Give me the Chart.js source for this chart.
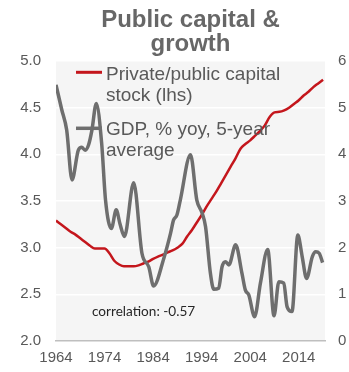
<!DOCTYPE html>
<html>
<head>
<meta charset="utf-8">
<script src="https://cdn.jsdelivr.net/npm/chart.js@4.4.1/dist/chart.umd.min.js"></script>
<style>
  html, body { margin: 0; padding: 0; background: #ffffff; }
  #wrap { width: 349px; height: 372px; }
</style>
</head>
<body>
<div id="wrap"><canvas id="c" width="349" height="372"></canvas></div>
<script>
// Private/public capital stock ratio (left axis), annual
const capitalYears = [
  1964, 1965, 1966, 1967, 1968, 1969, 1970, 1971, 1972, 1973,
  1974, 1975, 1976, 1977, 1978, 1979, 1980, 1981, 1982, 1983,
  1984, 1985, 1986, 1987, 1988, 1989, 1990, 1991, 1992, 1993,
  1994, 1995, 1996, 1997, 1998, 1999, 2000, 2001, 2002, 2003,
  2004, 2005, 2006, 2007, 2008, 2009, 2010, 2011, 2012, 2013,
  2014, 2015, 2016, 2017, 2018, 2019
];
const capitalRatio = [
  3.29, 3.25, 3.21, 3.17, 3.14, 3.10, 3.06, 3.02, 2.99, 2.99,
  2.99, 2.94, 2.86, 2.82, 2.80, 2.80, 2.80, 2.81, 2.83, 2.85,
  2.88, 2.905, 2.925, 2.95, 2.97, 3.00, 3.04, 3.12, 3.19, 3.27,
  3.35, 3.44, 3.52, 3.60, 3.69, 3.78, 3.87, 3.96, 4.06, 4.11,
  4.15, 4.20, 4.25, 4.31, 4.40, 4.45, 4.455, 4.47, 4.50, 4.54,
  4.58, 4.63, 4.67, 4.72, 4.76, 4.80
];

// GDP growth, % yoy, 5-year average (right axis)
const gdpYears = [
  1964.0, 1965.2, 1966.2, 1967.3, 1968.6, 1969.3, 1970.0, 1970.7, 1971.4, 1972.3,
  1973.4, 1974.2, 1975.4, 1976.4, 1977.2, 1978.1, 1980.0, 1981.7, 1983.1, 1984.1,
  1986.2, 1987.6, 1988.2, 1988.9, 1989.6, 1991.7, 1993.0, 1994.1, 1994.8, 1995.8,
  1996.5, 1997.5, 1998.2, 1998.9, 1999.6, 2001.0, 2002.3, 2003.0, 2003.7, 2004.9,
  2006.1, 2007.6, 2008.9, 2009.9, 2010.9, 2011.6, 2012.6, 2013.8, 2014.7, 2015.6,
  2016.8, 2017.5, 2018.2, 2018.9
];
const gdpGrowth = [
  5.49, 4.95, 4.52, 3.45, 4.09, 4.15, 4.09, 4.20, 4.52, 5.09,
  4.24, 3.02, 2.41, 2.81, 2.50, 2.24, 3.39, 1.88, 1.59, 1.18,
  1.77, 2.31, 2.59, 2.70, 3.02, 3.99, 3.02, 2.74, 2.45, 1.45,
  1.11, 1.13, 1.59, 1.70, 1.63, 2.06, 1.45, 1.09, 0.99, 0.52,
  1.24, 1.96, 0.54, 1.27, 1.24, 0.73, 0.63, 2.27, 1.81, 1.34,
  1.81, 1.91, 1.88, 1.68
];

const xTickYears = [1964, 1974, 1984, 1994, 2004, 2014];
const titleLines = ['Public capital &', 'growth'];
const capitalLabel = ['Private/public capital', 'stock (lhs)'];
const gdpLabel = ['GDP, % yoy, 5-year', 'average'];
const correlationNote = 'correlation: -0.57';

const RED = '#C4161C';
const GREY = '#6E6E6E';
const TEXT = '#595959';
const SANS = '"Liberation Sans", Arial, sans-serif';

// light panel behind the plotting area
const panelPlugin = {
  id: 'panel',
  beforeDraw(chart) {
    const { ctx, chartArea: a } = chart;
    ctx.save();
    ctx.fillStyle = '#F5F5F5';
    ctx.fillRect(a.left, a.top, a.right - a.left, a.bottom - a.top);
    ctx.restore();
  }
};

// two-line legend entries inside the plot, plus the correlation note
const notesPlugin = {
  id: 'notes',
  afterDatasetsDraw(chart) {
    const { ctx } = chart;
    const entries = [
      { color: RED, width: 3, lines: capitalLabel, sampleY: 72.3, baseY: 80 },
      { color: GREY, width: 3.5, lines: gdpLabel, sampleY: 128.3, baseY: 135 }
    ];
    ctx.save();
    entries.forEach(e => {
      ctx.strokeStyle = e.color;
      ctx.lineWidth = e.width;
      ctx.beginPath();
      ctx.moveTo(76, e.sampleY);
      ctx.lineTo(102, e.sampleY);
      ctx.stroke();
      ctx.fillStyle = TEXT;
      ctx.font = '19px ' + SANS;
      ctx.textAlign = 'left';
      ctx.textBaseline = 'alphabetic';
      e.lines.forEach((t, i) => ctx.fillText(t, 106, e.baseY + i * 20.5));
    });
    ctx.fillStyle = '#262626';
    ctx.font = '13.6px Lato, "Open Sans", sans-serif';
    ctx.fillText(correlationNote, 92, 316);
    ctx.restore();
  }
};

new Chart(document.getElementById('c'), {
  type: 'line',
  data: {
    datasets: [
      {
        label: gdpLabel.join(' '),
        data: gdpYears.map((yr, i) => ({ x: yr, y: gdpGrowth[i] })),
        yAxisID: 'yR',
        borderColor: GREY,
        borderWidth: 3.5,
        pointRadius: 0,
        cubicInterpolationMode: 'monotone',
        fill: false
      },
      {
        label: capitalLabel.join(' '),
        data: capitalYears.map((yr, i) => ({ x: yr, y: capitalRatio[i] })),
        yAxisID: 'yL',
        borderColor: RED,
        borderWidth: 2.5,
        pointRadius: 0,
        cubicInterpolationMode: 'monotone',
        fill: false
      }
    ]
  },
  options: {
    responsive: false,
    animation: false,
    devicePixelRatio: 1,
    layout: { padding: 0 },
    plugins: {
      legend: { display: false },
      tooltip: { enabled: false },
      title: {
        display: true,
        text: titleLines,
        color: '#676767',
        fullSize: false,
        font: { family: SANS, size: 24, weight: 'bold', lineHeight: 1.0 },
        padding: { top: 8, bottom: 5 }
      }
    },
    scales: {
      x: {
        type: 'linear',
        min: 1964,
        max: 2019.4,
        afterBuildTicks(scale) {
          scale.ticks = xTickYears.map(v => ({ value: v }));
        },
        afterFit(scale) { scale.height = 31; },
        ticks: {
          callback: v => String(v),
          color: TEXT,
          font: { family: SANS, size: 15 },
          padding: 8,
          maxRotation: 0,
          autoSkip: false
        },
        grid: { display: false, drawTicks: false },
        border: { display: true, color: '#BFBFBF', width: 1.5 }
      },
      yL: {
        position: 'left',
        min: 2,
        max: 5,
        afterFit(scale) { scale.width = 56; },
        ticks: {
          stepSize: 0.5,
          callback: v => Number(v).toFixed(1),
          color: TEXT,
          font: { family: SANS, size: 15 },
          padding: 15
        },
        grid: { color: '#FFFFFF', lineWidth: 1.5, drawTicks: false },
        border: { display: false }
      },
      yR: {
        position: 'right',
        min: 0,
        max: 6,
        afterFit(scale) { scale.width = 24; },
        ticks: {
          stepSize: 1,
          callback: v => String(v),
          color: TEXT,
          font: { family: SANS, size: 15 },
          padding: 13
        },
        grid: { display: false, drawTicks: false },
        border: { display: false }
      }
    }
  },
  plugins: [panelPlugin, notesPlugin]
});
</script>
</body>
</html>
